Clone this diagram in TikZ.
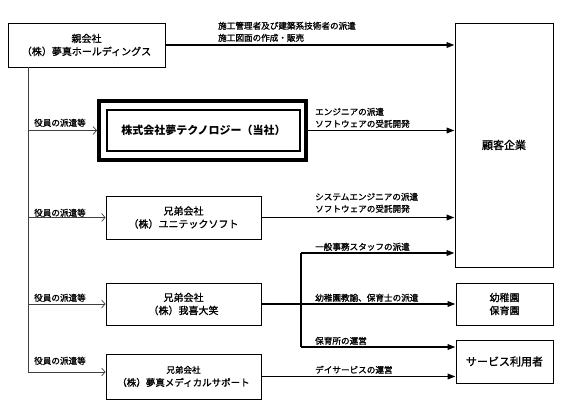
\documentclass[tikz,border=0pt]{standalone}
\usepackage{fontspec}
\setmainfont{Noto Sans CJK JP}[UprightFeatures={FakeBold=1.2}]
\usetikzlibrary{arrows.meta,calc}
\begin{document}
\begin{tikzpicture}[x=1pt,y=-1pt,
  box/.style={draw=black,line width=0.9pt,fill=white,inner sep=0pt,align=center,font=\fontsize{10}{13}\selectfont},
  lbl/.style={inner sep=0pt,align=left,font=\fontsize{8.6}{12}\selectfont},
  flow/.style={line width=1.8pt,-{Triangle[length=8pt,width=5.5pt]}},
  thin/.style={draw=black!75,line width=0.7pt},
  thinarrow/.style={thin,-{Straight Barb[length=3.5pt,width=8pt]}}
]
\useasboundingbox (0,0) rectangle (567,406);
% boxes
\node[box,minimum width=157pt,minimum height=44pt] (parent) at (86.5,45) {親会社\\（株）夢真ホールディングス};
\node[box,minimum width=98pt,minimum height=244pt,font=\fontsize{11}{13}\selectfont] (cust) at (504,145) {顧客企業};
\node[draw=black,line width=4pt,minimum width=207pt,minimum height=59pt,inner sep=0pt] (tech) at (202.5,130.5) {};
\node[box,line width=2pt,minimum width=193pt,minimum height=41pt,font=\fontsize{11}{13}\selectfont\bfseries] (techin) at (203.5,130.5) {株式会社夢テクノロジー（当社）};
\node[box,minimum width=155pt,minimum height=43pt] (sib1) at (183.5,217.5) {兄弟会社\\（株）ユニテックソフト};
\node[box,minimum width=155pt,minimum height=42pt] (sib2) at (183.5,304) {兄弟会社\\（株）我喜大笑};
\node[box,minimum width=155pt,minimum height=45pt,font=\fontsize{9.5}{13}\selectfont] (sib3) at (183.5,376.5) {{\fontsize{8.5}{12}\selectfont 兄弟会社}\\（株）夢真メディカルサポート};
\node[box,minimum width=97pt,minimum height=42pt] (kind) at (504.5,304) {幼稚園\\保育園};
\node[box,minimum width=97pt,minimum height=43pt,font=\fontsize{11}{13}\selectfont] (svc) at (504.5,361.5) {サービス利用者};
% flow arrows
\draw[flow] (parent.east) -- (parent.east -| cust.west);
\draw[flow] (tech.east) -- (tech.east -| cust.west);
\draw[flow] (sib1.east) -- (sib1.east -| cust.west);
\coordinate (j) at (301,304);
\coordinate (jt) at (301,253);
\coordinate (jb) at (301,347);
\draw[line width=1.8pt] (sib2.east) -- (j);
\draw[flow] (j) -- (kind.west);
\draw[line width=1.8pt] (jt) -- (jb);
\draw[flow] (jt) -- (jt -| cust.west);
\draw[flow] (jb) -- (jb -| svc.west);
\draw[flow] (sib3.east) -- (sib3.east -| svc.west);
% flow labels
\node[lbl,anchor=south west] (l1) at (218,42) {施工管理者及び建築系技術者の派遣\\施工図面の作成・販売};
\node[lbl,anchor=south west] (l2) at (315,128) {エンジニアの派遣\\ソフトウェアの受託開発};
\node[lbl,anchor=south west] (l3) at (315,213) {システムエンジニアの派遣\\ソフトウェアの受託開発};
\node[lbl,anchor=south west] (l4) at (315,251) {一般事務スタッフの派遣};
\node[lbl,anchor=south west] (l5) at (315,302) {幼稚園教諭、保育士の派遣};
\node[lbl,anchor=south west] (l6) at (315,345) {保育所の運営};
\node[lbl,anchor=south west] (l7) at (315,374) {デイサービスの運営};
% left spine
\coordinate (vtop) at (28,67);
\coordinate (vbot) at (28,372);
\draw[thin] (vtop) -- (vbot);
\draw[thinarrow] (vtop |- tech.west) -- (tech.west);
\draw[thinarrow] (vtop |- sib1.west) -- (sib1.west);
\draw[thinarrow] (vtop |- sib2.west) -- (sib2.west);
\draw[thinarrow] (vbot) -- (vbot -| sib3.west);
\node[lbl,anchor=south west] (y1) at (34,127) {役員の派遣等};
\node[lbl,anchor=south west] (y2) at (34,217) {役員の派遣等};
\node[lbl,anchor=south west] (y3) at (34,302) {役員の派遣等};
\node[lbl,anchor=south west] (y4) at (34,365) {役員の派遣等};
\end{tikzpicture}
\end{document}
